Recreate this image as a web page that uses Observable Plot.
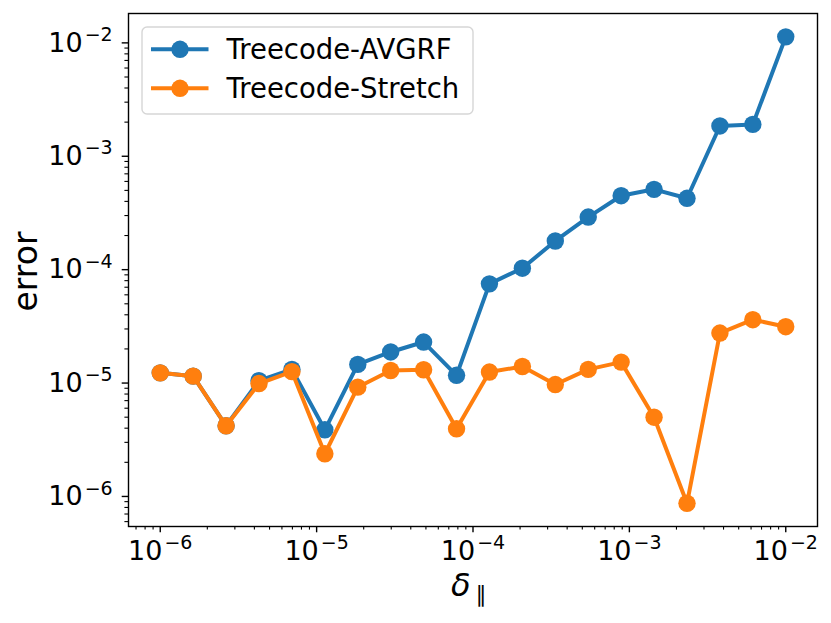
<!DOCTYPE html>
<html>
<head>
<meta charset="utf-8">
<script src="https://cdn.jsdelivr.net/npm/d3@7"></script>
<script src="https://cdn.jsdelivr.net/npm/@observablehq/plot@0.6"></script>
<style>
  html, body { margin: 0; padding: 0; background: white; }
  #chart svg { display: block; }
</style>
</head>
<body>
<div id="chart"></div>
<script>
// ---- data ----
const delta = [1.0e-6, 1.624e-6, 2.637e-6, 4.281e-6, 6.952e-6, 1.129e-5, 1.833e-5, 2.976e-5, 4.833e-5, 7.848e-5,
               1.274e-4, 2.069e-4, 3.360e-4, 5.456e-4, 8.859e-4, 1.438e-3, 2.336e-3, 3.793e-3, 6.158e-3, 1.0e-2];
const errAVGRF = [1.23e-5, 1.15e-5, 4.2e-6, 1.05e-5, 1.32e-5, 3.87e-6, 1.46e-5, 1.88e-5, 2.30e-5, 1.17e-5,
                  7.5e-5, 1.03e-4, 1.79e-4, 2.91e-4, 4.49e-4, 5.11e-4, 4.26e-4, 1.85e-3, 1.91e-3, 1.13e-2];
const errStretch = [1.23e-5, 1.15e-5, 4.2e-6, 9.9e-6, 1.26e-5, 2.38e-6, 9.2e-6, 1.29e-5, 1.31e-5, 3.95e-6,
                    1.25e-5, 1.40e-5, 9.7e-6, 1.32e-5, 1.53e-5, 5.0e-6, 8.7e-7, 2.76e-5, 3.62e-5, 3.14e-5];
const seriesNames = ["Treecode-AVGRF", "Treecode-Stretch"];
const seriesColors = ["#1f77b4", "#ff7f0e"];
const majorX = [1e-6, 1e-5, 1e-4, 1e-3, 1e-2];
const majorY = [1e-6, 1e-5, 1e-4, 1e-3, 1e-2];
const xLabel = "δ";
const xLabelSub = "∥";
const yLabel = "error";

const dataA = delta.map((d, i) => ({x: d, y: errAVGRF[i]}));
const dataS = delta.map((d, i) => ({x: d, y: errStretch[i]}));

function minorTicks(lo, hi) {
  const out = [];
  for (let e = Math.floor(Math.log10(lo)); e <= Math.ceil(Math.log10(hi)); e++) {
    for (let m = 2; m <= 9; m++) {
      const v = m * Math.pow(10, e);
      if (v >= lo && v <= hi) out.push(v);
    }
  }
  return out;
}
const xDomain = [Math.pow(10, -6.203), Math.pow(10, -1.797)];
const yDomain = [Math.pow(10, -6.265), Math.pow(10, -1.741)];
const fmtPow = d => "10^" + Math.round(Math.log10(d));

const chart = Plot.plot({
  width: 831,
  height: 623,
  marginLeft: 128,
  marginRight: 14,
  marginTop: 13,
  marginBottom: 97,
  style: {fontFamily: "'DejaVu Sans'", fontSize: "27px", background: "white", color: "black"},
  x: {type: "log", domain: xDomain},
  y: {type: "log", domain: yDomain},
  marks: [
    Plot.axisX({ticks: minorTicks(...xDomain), tickSize: 3.6, strokeWidth: 1.1, tickFormat: () => "", label: null}),
    Plot.axisX({ticks: majorX, tickSize: 6.3, strokeWidth: 1.4, tickPadding: 8, tickFormat: fmtPow, label: null}),
    Plot.axisY({ticks: minorTicks(...yDomain), tickSize: 3.6, strokeWidth: 1.1, tickFormat: () => "", label: null}),
    Plot.axisY({ticks: majorY, tickSize: 6.3, strokeWidth: 1.4, tickPadding: 9.5, tickFormat: fmtPow, label: null}),
    Plot.line(dataA, {x: "x", y: "y", stroke: seriesColors[0], strokeWidth: 4}),
    Plot.dot(dataA, {x: "x", y: "y", r: 8.7, fill: seriesColors[0], stroke: "none"}),
    Plot.line(dataS, {x: "x", y: "y", stroke: seriesColors[1], strokeWidth: 4}),
    Plot.dot(dataS, {x: "x", y: "y", r: 8.7, fill: seriesColors[1], stroke: "none"}),
    Plot.frame({stroke: "black", strokeWidth: 1.4})
  ]
});

// Turn "10^-k" tick labels into 10 with a superscript exponent
chart.querySelectorAll('g[aria-label="x-axis tick label"], g[aria-label="y-axis tick label"]').forEach(g => {
  g.setAttribute("font-size", "27px");
  g.setAttribute("font-family", "'DejaVu Sans'");
  g.style.fontVariant = "normal";
});
chart.querySelectorAll('g[aria-label="x-axis tick label"] text, g[aria-label="y-axis tick label"] text').forEach(t => {
  const s = t.textContent;
  if (!s || s.indexOf("^") < 0) return;
  const [base, exp] = s.split("^");
  t.textContent = base;
  t.setAttribute("font-size", "27px");
  const sup = document.createElementNS("http://www.w3.org/2000/svg", "tspan");
  sup.setAttribute("font-size", "19px");
  sup.setAttribute("dy", "-10.5");
  sup.setAttribute("dx", "2");
  sup.textContent = exp.replace("-", "\u2212");
  t.appendChild(sup);
});

const svg = d3.select(chart);
const plotTop = 13, plotBottom = 623 - 97;

// y label
svg.append("text")
  .attr("transform", `translate(36.5,${(plotTop + plotBottom) / 2 + 2}) rotate(-90)`)
  .attr("text-anchor", "middle")
  .attr("font-family", "'DejaVu Sans'")
  .attr("font-size", "33px")
  .attr("fill", "black")
  .text(yLabel);

// x label: δ with subscript ∥
const xl = svg.append("text")
  .attr("x", 451)
  .attr("y", 595.5)
  .attr("text-anchor", "start")
  .attr("font-family", "'DejaVu Sans'")
  .attr("font-size", "32px")
  .attr("fill", "black");
xl.append("tspan").attr("font-style", "italic").text(xLabel);
xl.append("tspan").attr("font-size", "22px").attr("dx", 5).attr("dy", 6).text(xLabelSub);

// legend
const lg = svg.append("g");
lg.append("rect")
  .attr("x", 142).attr("y", 27).attr("width", 331).attr("height", 87).attr("rx", 5)
  .attr("fill", "white").attr("fill-opacity", 0.8)
  .attr("stroke", "#cccccc").attr("stroke-opacity", 0.8).attr("stroke-width", 1.4);
seriesNames.forEach((name, i) => {
  const yy = 49.3 + i * 39;
  lg.append("line").attr("x1", 151).attr("x2", 208.5).attr("y1", yy).attr("y2", yy)
    .attr("stroke", seriesColors[i]).attr("stroke-width", 4);
  lg.append("circle").attr("cx", 180).attr("cy", yy).attr("r", 8.7).attr("fill", seriesColors[i]);
  lg.append("text").attr("x", 226.5).attr("y", yy + 9.3)
    .attr("text-anchor", "start")
    .attr("font-family", "'DejaVu Sans'").attr("font-size", "27.5px").attr("fill", "black")
    .text(name);
});

document.getElementById("chart").appendChild(chart);
</script>
</body>
</html>
